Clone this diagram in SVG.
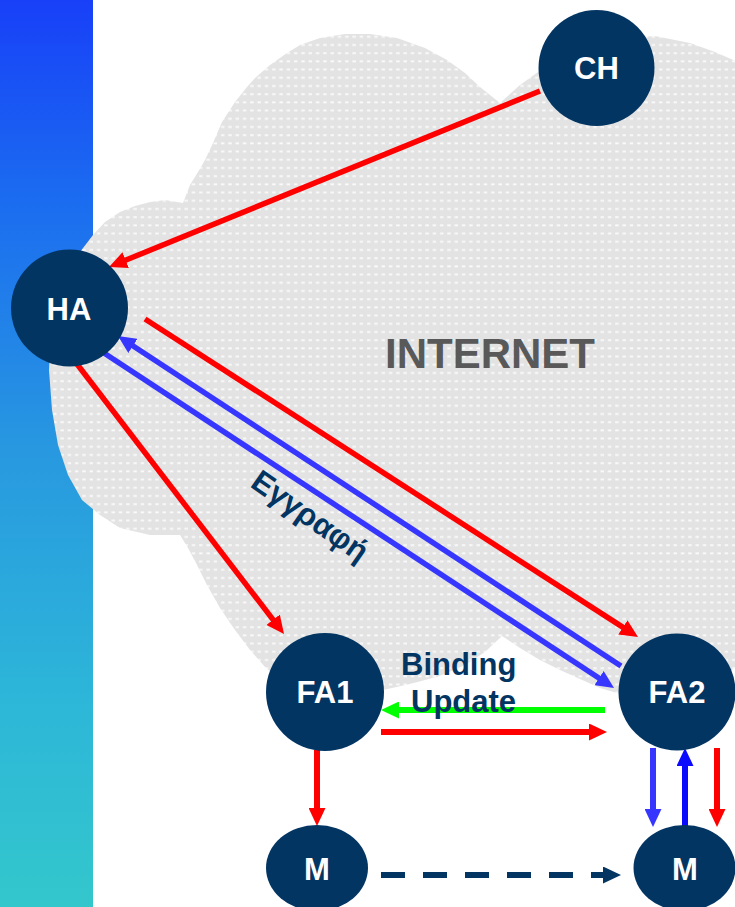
<svg xmlns="http://www.w3.org/2000/svg" width="735" height="907" viewBox="0 0 735 907">
<defs>
<linearGradient id="bar" x1="0" y1="0" x2="0" y2="1">
<stop offset="0" stop-color="#1840f8"/>
<stop offset="0.22" stop-color="#1b6cf0"/>
<stop offset="0.5" stop-color="#2899e0"/>
<stop offset="0.78" stop-color="#2db7d8"/>
<stop offset="1" stop-color="#33c7cc"/>
</linearGradient>
<pattern id="dots" width="7.3" height="8.2" patternUnits="userSpaceOnUse">
<rect width="7.3" height="8.2" fill="#e3e3e3"/>
<rect x="2" y="3" width="3.4" height="1.9" fill="#fafafa"/>
</pattern>
<marker id="aRed" markerUnits="userSpaceOnUse" viewBox="0 0 18 17" markerWidth="18" markerHeight="17" refX="3" refY="8.5" orient="auto"><path d="M0,0 L18,8.5 L0,17 z" fill="#ff0000"/></marker>
<marker id="aBlue" markerUnits="userSpaceOnUse" viewBox="0 0 18 17" markerWidth="18" markerHeight="17" refX="3" refY="8.5" orient="auto"><path d="M0,0 L18,8.5 L0,17 z" fill="#3636ff"/></marker>
<marker id="aBlue2" markerUnits="userSpaceOnUse" viewBox="0 0 18 17" markerWidth="18" markerHeight="17" refX="3" refY="8.5" orient="auto"><path d="M0,0 L18,8.5 L0,17 z" fill="#0a0aff"/></marker>
<marker id="aGreen" markerUnits="userSpaceOnUse" viewBox="0 0 18 17" markerWidth="18" markerHeight="17" refX="3" refY="8.5" orient="auto"><path d="M0,0 L18,8.5 L0,17 z" fill="#00ff00"/></marker>
<marker id="aNavy" markerUnits="userSpaceOnUse" viewBox="0 0 18 17" markerWidth="18" markerHeight="17" refX="3" refY="8.5" orient="auto"><path d="M0,0 L18,8.5 L0,17 z" fill="#033563"/></marker>
</defs>
<style>
.node{fill:#033563}
.nl{font-family:"Liberation Sans",Arial,sans-serif;font-weight:bold;font-size:31px;fill:#ffffff;text-anchor:middle}
.red{stroke:#ff0000;stroke-width:5.5;fill:none;marker-end:url(#aRed)}
.blue{stroke:#3636ff;stroke-width:5.5;fill:none;marker-end:url(#aBlue)}
.blue2{stroke:#0a0aff;stroke-width:6;fill:none;marker-end:url(#aBlue2)}
.green{stroke:#00ff00;stroke-width:6;fill:none;marker-end:url(#aGreen)}
.dash{stroke:#033563;stroke-width:6;fill:none;stroke-dasharray:24 18;marker-end:url(#aNavy)}
.lbl{font-family:"Liberation Sans",Arial,sans-serif;font-weight:bold;fill:#033563}
</style>
<rect width="735" height="907" fill="#ffffff"/>
<rect id="sidebar" x="0" y="0" width="93" height="907" fill="url(#bar)"/>
<path id="cloud" fill="url(#dots)" d="M183,203 L190,185 L198,172 L205,160 L213,143 L222,122 L235,102 L247,87 L255,78 L270,65 L287,53 L300,45 L320,38 L345,34 L370,34 L397,38 L425,48 L447,60 L465,73 L480,87 L500,103 L520,85 L538,72 L560,55 L600,40 L655,36 L690,43 L715,52 L740,63 L740,666 L735,668 L700,690 L660,700 L620,694 L600,688 L580,679 L560,670 L540,660 L520,648 L502,636 L485,652 L465,665 L440,676 L410,684 L383,690 L360,697 L330,700 L300,695 L280,680 L265,667 L250,650 L235,630 L220,608 L207,585 L197,565 L188,548 L180,535 L150,535 L120,528 L100,515 L82,500 L68,475 L58,445 L52,410 L49,370 L51,330 L58,295 L70,268 L80,252 L93,235 L105,222 L120,212 L135,206 L150,202 L165,200 Z"/>
<text id="internet" x="490" y="368" font-family="Liberation Sans, Arial, sans-serif" font-weight="bold" font-size="42" fill="#595959" text-anchor="middle">INTERNET</text>
<g id="connectors">
<line class="red" x1="540" y1="91" x2="122.9" y2="261.3"/>
<line class="red" x1="145" y1="319" x2="625.4" y2="628.9"/>
<line class="red" x1="77" y1="364" x2="274.9" y2="622.1"/>
<line class="blue" x1="621" y1="666" x2="130.5" y2="344.2"/>
<line class="blue" x1="104" y1="353" x2="601.5" y2="679.8"/>
<line class="green" x1="605" y1="710" x2="396" y2="710"/>
<line class="red" x1="381" y1="732" x2="592" y2="732" style="stroke-width:6"/>
<line class="red" x1="317" y1="750" x2="317" y2="811" style="stroke-width:6"/>
<line class="blue" x1="653" y1="748" x2="653" y2="812" style="stroke-width:6"/>
<line class="blue2" x1="685" y1="826" x2="685" y2="763"/>
<line class="red" x1="717" y1="748" x2="717" y2="812" style="stroke-width:6"/>
<line class="dash" x1="381" y1="875" x2="606" y2="875"/>
</g>
<g id="node-CH"><circle class="node" cx="596.5" cy="68" r="58"/><text class="nl" x="596.5" y="79">CH</text></g>
<g id="node-HA"><circle class="node" cx="69.5" cy="308" r="58.5"/><text class="nl" x="69" y="320">HA</text></g>
<g id="node-FA1"><circle class="node" cx="325" cy="692" r="59"/><text class="nl" x="325" y="703">FA1</text></g>
<g id="node-FA2"><circle class="node" cx="677" cy="692" r="58.5"/><text class="nl" x="677" y="703">FA2</text></g>
<g id="node-M1"><ellipse class="node" cx="317" cy="868" rx="51" ry="43"/><text class="nl" x="317" y="880">M</text></g>
<g id="node-M2"><ellipse class="node" cx="684.5" cy="868" rx="51" ry="43"/><text class="nl" x="685" y="880">M</text></g>
<g id="labels">
<text class="lbl" x="249" y="486" font-size="31" transform="rotate(35 249 486)">Εγγραφή</text>
<text class="lbl" x="401" y="675" font-size="31">Binding</text>
<text class="lbl" x="411" y="712" font-size="31">Update</text>
</g>
</svg>
